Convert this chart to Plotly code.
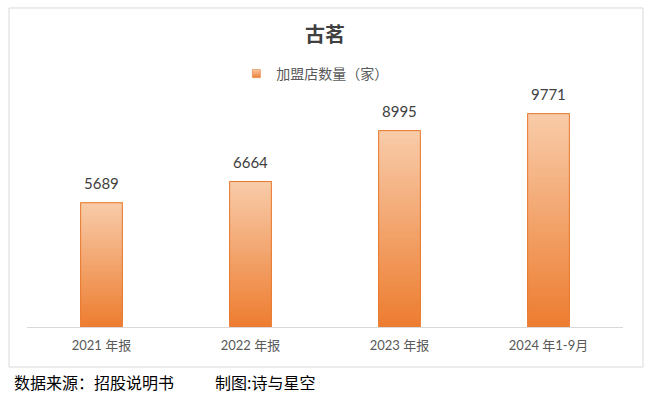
import plotly.graph_objects as go

categories = ["2021 年报", "2022 年报", "2023 年报", "2024 年1-9月"]
values = [5689, 6664, 8995, 9771]
series_name = "加盟店数量（家）"
title_text = "古茗"
source_text = "数据来源：招股说明书"
author_text = "制图:诗与星空"

TOP = (248, 203, 168)
BOTTOM = (237, 125, 49)
N = 60
BAR_W = 0.28
BASE_FONT = "Lato, 'Noto Sans CJK SC', sans-serif"
CJK_FONT = "'Noto Sans CJK SC', sans-serif"


def mix(t):
    r, g, b = (round(BOTTOM[i] + (TOP[i] - BOTTOM[i]) * t) for i in range(3))
    return f"rgb({r},{g},{b})"


fig = go.Figure()
# gradient bars: overlapping layers, each from a fraction of the value up to the value
for k in range(N):
    fig.add_trace(go.Bar(
        x=categories,
        y=[v * (N - k) / N for v in values],
        base=[v * k / N for v in values],
        width=BAR_W,
        marker=dict(color=mix(k / (N - 1)), line=dict(width=0)),
        showlegend=False,
        hoverinfo="skip",
    ))
# outline of each bar
fig.add_trace(go.Bar(
    x=categories,
    y=values,
    width=BAR_W,
    marker=dict(color="rgba(0,0,0,0)", line=dict(color="#e97b31", width=1)),
    showlegend=False,
    name=series_name,
))
# legend entry
fig.add_trace(go.Scatter(
    x=[None], y=[None], mode="markers", name=series_name,
    marker=dict(symbol="square", size=8, color=mix(1.0),
                gradient=dict(type="vertical", color=mix(0.0)),
                line=dict(color="#e97b31", width=0.6)),
))

for c, v in zip(categories, values):
    fig.add_annotation(x=c, y=v, text=str(v), showarrow=False, yshift=20,
                       yanchor="middle", font=dict(size=15, color="#404040", family=BASE_FONT))

fig.add_annotation(xref="paper", yref="paper", x=-0.0252, y=-0.2099, xanchor="left",
                   yanchor="middle", text=source_text, showarrow=False,
                   font=dict(size=16, color="#000000", family=CJK_FONT))
fig.add_annotation(xref="paper", yref="paper", x=0.3121, y=-0.2099, xanchor="left",
                   yanchor="middle", text=author_text, showarrow=False,
                   font=dict(size=16, color="#000000", family=CJK_FONT))

fig.add_shape(type="rect", xref="paper", yref="paper", x0=-0.0302, x1=1.0336,
              y0=-0.1527, y1=1.2176, line=dict(color="#d9d9d9", width=1),
              fillcolor="rgba(0,0,0,0)", layer="below")

fig.update_layout(
    width=659, height=397,
    margin=dict(l=27, r=36, t=65, b=70),
    paper_bgcolor="white", plot_bgcolor="white",
    barmode="overlay",
    title=dict(text=f"<b>{title_text}</b>", x=0.5, xref="paper", y=1 - 35 / 397,
               yref="container", xanchor="center", yanchor="middle",
               font=dict(size=20, color="#404040", family=CJK_FONT)),
    legend=dict(orientation="h", x=0.483, xanchor="center", y=0.9656, yanchor="middle",
                font=dict(size=14, color="#595959", family=CJK_FONT),
                itemwidth=30, bgcolor="rgba(0,0,0,0)"),
    xaxis=dict(showline=True, linecolor="#d9d9d9", linewidth=1, showgrid=False,
               ticks="", ticklabelstandoff=6,
               tickfont=dict(size=13, color="#595959", family=BASE_FONT),
               fixedrange=True),
    yaxis=dict(range=[0, 12000], visible=False, showgrid=False, fixedrange=True),
    showlegend=True,
)

fig.write_html("out.html", config={"displayModeBar": False},
               post_script="document.body.style.margin='0';document.body.style.overflow='hidden';")
